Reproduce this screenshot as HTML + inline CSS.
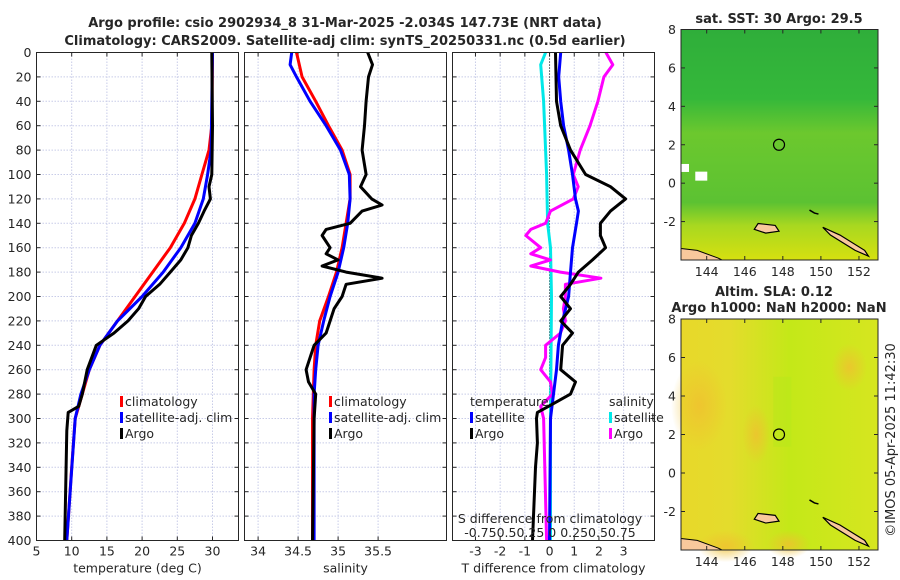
<!DOCTYPE html>
<html><head><meta charset="utf-8"><style>
html,body{margin:0;padding:0;background:#fff;}
svg{display:block;font-family:"DejaVu Sans","Liberation Sans",sans-serif;}
</style></head><body>
<svg id="fig" width="900" height="580" viewBox="0 0 900 580">
<defs>
<linearGradient id="sstg" x1="0" y1="0" x2="0" y2="1">
<stop offset="0" stop-color="#2fae3a"/><stop offset="0.3" stop-color="#35b83a"/><stop offset="0.45" stop-color="#6cc82e"/><stop offset="0.75" stop-color="#5cc232"/><stop offset="0.85" stop-color="#a8d820"/><stop offset="1" stop-color="#d6e010"/>
</linearGradient>
<linearGradient id="slag" x1="0" y1="0" x2="1" y2="0">
<stop offset="0" stop-color="#e8d82a"/><stop offset="0.25" stop-color="#e4dc2c"/><stop offset="0.55" stop-color="#c4e818"/><stop offset="1" stop-color="#d6e620"/>
</linearGradient>
<radialGradient id="orb" cx="0.5" cy="0.5" r="0.5"><stop offset="0" stop-color="#f0c030" stop-opacity="0.8"/><stop offset="1" stop-color="#f0c030" stop-opacity="0"/></radialGradient>
</defs>
</svg>
<script>
// ---- data ----
const depthTicks=[0,20,40,60,80,100,120,140,160,180,200,220,240,260,280,300,320,340,360,380,400];
const tempTicks=[5,10,15,20,25,30];
const salTicks=[34,34.5,35,35.5];
const salTickLabels=["34","34.5","35","35.5"];
const dTicks=[-3,-2,-1,0,1,2,3];
const lonTicks=[144,146,148,150,152];
const latTicks=[-2,0,2,4,6,8];

const tClimD=[0,60,80,100,120,140,160,180,200,220,240,260,280,300,340,400];
const tClimV=[30,29.9,29.5,28.5,27.5,26,24,21.5,19,16.5,14,12.5,11.5,10.5,10,9.3];
const tSatD=[0,80,100,120,140,160,180,200,220,240,260,280,300,400];
const tSatV=[30,29.8,29.3,28.7,27.5,25.5,23,20,16.5,14,12.5,11.3,10.5,9.3];
const tArgoD=[0,60,100,110,120,130,140,150,160,170,180,190,200,210,220,230,240,260,280,290,295,310,400];
const tArgoV=[29.9,30,29.9,29.5,29.7,28.8,28,27,26.5,25.5,24,22.5,20.5,19.5,18,16,13.5,12.2,11.5,11,9.5,9.3,9.0];

const sClimD=[0,20,40,60,80,100,120,140,160,180,200,220,240,260,280,300,400];
const sClimV=[34.48,34.55,34.72,34.88,35.05,35.15,35.15,35.1,35.05,34.98,34.88,34.77,34.72,34.7,34.69,34.68,34.68];
const sSatD=[0,10,20,40,60,80,100,120,140,160,180,200,220,240,260,280,300,400];
const sSatV=[34.42,34.4,34.48,34.65,34.85,35.03,35.14,35.15,35.12,35.07,35.0,34.9,34.82,34.75,34.72,34.7,34.7,34.7];
const sArgoD=[0,10,20,40,60,80,100,110,120,125,130,140,145,150,160,165,170,175,180,185,190,200,210,220,230,240,250,260,270,280,300,400];
const sArgoV=[35.37,35.43,35.38,35.35,35.33,35.3,35.35,35.28,35.42,35.55,35.3,35.15,34.85,34.8,34.9,34.85,35.0,34.8,35.1,35.55,35.1,35.05,34.95,34.9,34.85,34.7,34.65,34.6,34.63,34.72,34.7,34.68];

const dSatTD=[0,20,40,60,80,100,120,130,140,160,180,200,220,240,260,280,300,400];
const dSatTV=[0.45,0.37,0.45,0.57,0.77,0.93,1.05,1.17,1.09,0.93,0.85,0.77,0.53,0.36,0.28,0.16,0.04,0];
const dArgoTD=[0,40,60,80,100,110,120,130,140,150,160,170,180,190,200,210,220,230,240,260,270,280,290,295,300,320,340,360,380,400];
const dArgoTV=[0.24,0.28,0.45,0.85,1.46,2.47,3.08,2.47,2.06,2.06,2.27,1.74,1.17,0.85,0.45,0.85,0.45,0.93,0.53,0.45,1.05,0.85,-0.04,-0.49,-0.53,-0.49,-0.57,-0.61,-0.65,-0.69];
const dSatSD=[0,10,40,100,140,160,200,300,400];
const dSatSV=[-0.04,-0.09,-0.06,-0.03,-0.02,0.01,0.02,0.01,0.01];
const dArgoSD=[0,10,20,40,60,80,100,110,120,130,140,145,150,160,165,170,175,180,185,190,200,210,220,230,240,250,260,270,280,290,300,400];
const dArgoSV=[0.57,0.64,0.55,0.49,0.41,0.31,0.24,0.29,0.24,0.01,-0.04,-0.19,-0.24,-0.09,-0.19,0.01,-0.19,0.11,0.52,0.16,0.16,0.14,0.16,0.11,-0.04,-0.04,-0.09,0.01,0.03,-0.09,-0.06,-0.03];

const argoLon=[147.8], argoLat=[2];

// ---- helpers ----
const NS="http://www.w3.org/2000/svg";
const svg=document.getElementById('fig');
function el(tag,attrs,parent){const e=document.createElementNS(NS,tag);for(const k in attrs)e.setAttribute(k,attrs[k]);(parent||svg).appendChild(e);return e;}
function txt(x,y,s,size,anchor,weight,parent){const t=el('text',{x:x,y:y,'font-size':size,'text-anchor':anchor||'middle','font-weight':weight||'normal',fill:'#262626'},parent);t.textContent=s;return t;}

const plotTop=52.5,plotBot=540.5;
const yD=d=>plotTop+d/400*(plotBot-plotTop);
const panels=[
 {x0:36.5,x1:238.5,min:5,max:5+202/7.04},
 {x0:244.5,x1:446.5,min:33.83,max:36.355},
 {x0:452.5,x1:654.5,min:-3.93,max:4.25}
];
const xf=(p,v)=>p.x0+(v-p.min)/(p.max-p.min)*(p.x1-p.x0);
const sScale=4; // S difference plotted at 4x on T axis

function drawPanel(i,xticks,xlabels,xtitle,name){
 const p=panels[i];
 const g=el('g',{});
 
 
 el('rect',{x:p.x0,y:plotTop,width:p.x1-p.x0,height:plotBot-plotTop,fill:'#fff'},g);
 depthTicks.forEach(d=>{el('line',{x1:p.x0,x2:p.x1,y1:yD(d),y2:yD(d),stroke:'#c8cce8','stroke-width':1,'stroke-dasharray':'1.5,1.5'},g);
  el('line',{x1:p.x0,x2:p.x0+4,y1:yD(d),y2:yD(d),stroke:'#262626'},g);el('line',{x1:p.x1,x2:p.x1-4,y1:yD(d),y2:yD(d),stroke:'#262626'},g);
  if(i===0){const t=txt(p.x0-5,yD(d)+4.5,String(d),12.5,'end',null,g);}
 });
 xticks.forEach((v,k)=>{const x=xf(p,v);el('line',{x1:x,x2:x,y1:plotTop,y2:plotBot,stroke:'#c8cce8','stroke-dasharray':'1.5,1.5'},g);
  el('line',{x1:x,x2:x,y1:plotBot,y2:plotBot-4,stroke:'#262626'},g);el('line',{x1:x,x2:x,y1:plotTop,y2:plotTop+4,stroke:'#262626'},g);
  const t=txt(x,plotBot+15,xlabels[k],12.5,'middle',null,g);});
 const tt=txt((p.x0+p.x1)/2,plotBot+32,xtitle,12.5,'middle',null,g);
 return g;
}
function line(i,D,V,color,name,mult){
 const p=panels[i];const m=mult||1;
 const pts=D.map((d,k)=>xf(p,V[k]*m).toFixed(1)+','+yD(d).toFixed(1)).join(' ');
 const pl=el('polyline',{points:pts,fill:'none',stroke:color,'stroke-width':3,'stroke-linejoin':'round'});
 
 
}
function frame(i){const p=panels[i];el('rect',{x:p.x0,y:plotTop,width:p.x1-p.x0,height:plotBot-plotTop,fill:'none',stroke:'#262626','stroke-width':1});}

drawPanel(0,tempTicks,tempTicks.map(String),'temperature (deg C)','temperature-panel');
drawPanel(1,salTicks,salTickLabels,'salinity','salinity-panel');
drawPanel(2,dTicks,dTicks.map(String),'T difference from climatology','difference-panel');

el('line',{x1:xf(panels[2],0),x2:xf(panels[2],0),y1:plotTop,y2:plotBot,stroke:'#000','stroke-dasharray':'1,2'});

line(0,tClimD,tClimV,'#ff0000','temp-climatology-line');
line(0,tSatD,tSatV,'#0000ff','temp-satellite-line');
line(0,tArgoD,tArgoV,'#000000','temp-argo-line');
line(1,sClimD,sClimV,'#ff0000','sal-climatology-line');
line(1,sSatD,sSatV,'#0000ff','sal-satellite-line');
line(1,sArgoD,sArgoV,'#000000','sal-argo-line');
line(2,dSatSD,dSatSV,'#00e8e8','sdiff-satellite-line',sScale);
line(2,dArgoSD,dArgoSV,'#ff00ff','sdiff-argo-line',sScale);
line(2,dSatTD,dSatTV,'#0000ff','tdiff-satellite-line');
line(2,dArgoTD,dArgoTV,'#000000','tdiff-argo-line');
[0,1,2].forEach(frame);

const sl=txt(550,523,'S difference from climatology',12.5,'middle');

const sv=txt(550,537,'-0.750.50.25 0  0.250.50.75',12.5,'middle');


function legend(x,y,items,name){
 const g=el('g',{});
 
 
 items.forEach((it,k)=>{
  if(it[1]) el('rect',{x:x,y:y+k*16-10,width:3,height:11,fill:it[1]},g);
  txt(x+(it[1]?5:0),y+k*16,it[0],12.5,'start',null,g);
 });
}
legend(120,406,[['climatology','#ff0000'],['satellite-adj. clim','#0000ff'],['Argo','#000000']],'temperature-legend');
legend(329,406,[['climatology','#ff0000'],['satellite-adj. clim','#0000ff'],['Argo','#000000']],'salinity-legend');
legend(470,406,[['temperature',null],['satellite','#0000ff'],['Argo','#000000']],'tdiff-legend');
legend(609,406,[['salinity',null],['satellite','#00e8e8'],['Argo','#ff00ff']],'sdiff-legend');

const t1=txt(345,27,'Argo profile: csio 2902934_8 31-Mar-2025 -2.034S 147.73E (NRT data)',13,'middle','bold');

const t2=txt(345,45,'Climatology: CARS2009. Satellite-adj clim: synTS_20250331.nc (0.5d earlier)',13,'middle','bold');


const maps=[{x0:681,x1:878,y0:29.5,y1:260,fill:'url(#sstg)',name:'sst-map'},{x0:681,x1:878,y0:319,y1:550,fill:'url(#slag)',name:'sla-map'}];
const lonMin=142.65,lonMax=153.0;
maps.forEach((m,mi)=>{
 const pxLat=(m.y1-m.y0)/12;
 const mx=lon=>m.x0+(lon-lonMin)/(lonMax-lonMin)*(m.x1-m.x0);
 const my=lat=>m.y0+(8-lat)*pxLat;
 const g=el('g',{});
 
 
 el('rect',{x:m.x0,y:m.y0,width:m.x1-m.x0,height:m.y1-m.y0,fill:m.fill},g);
 if(mi===0){
  el('rect',{x:mx(142.65),y:my(1),width:8,height:8,fill:'#fff'},g);
  el('rect',{x:mx(143.4),y:my(0.6),width:12,height:9,fill:'#fff'},g);
 } else {
  [[143.6,3.5,28,45],[146.6,2,14,30],[145,-3.8,28,16],[148.3,-3.7,22,14],[151.5,5.5,18,24]].forEach(b=>el('ellipse',{cx:mx(b[0]),cy:my(b[1]),rx:b[2],ry:b[3],fill:'url(#orb)'},g));
  el('rect',{x:mx(147.5),y:my(5),width:18,height:70,fill:'#b8e81a',opacity:0.5},g);
 }
 el('polygon',{points:`${m.x0},${my(-3.4)} ${mx(143.5)},${my(-3.5)} ${mx(144.6)},${my(-3.9)} ${mx(144.8)},${my(-4)} ${m.x0},${m.y1}`,fill:'#f8c89c',stroke:'#000','stroke-width':1},g);
 el('polygon',{points:`${mx(146.7)},${my(-2.1)} ${mx(147.6)},${my(-2.2)} ${mx(147.8)},${my(-2.5)} ${mx(147.1)},${my(-2.6)} ${mx(146.5)},${my(-2.4)}`,fill:'#f8c89c',stroke:'#000','stroke-width':1.2},g);
 el('polygon',{points:`${mx(150.1)},${my(-2.3)} ${mx(151)},${my(-2.7)} ${mx(152.3)},${my(-3.5)} ${mx(152.5)},${my(-3.8)} ${mx(151.8)},${my(-3.5)} ${mx(150.5)},${my(-2.7)}`,fill:'#f8c89c',stroke:'#000','stroke-width':1.2},g);
 el('path',{d:`M${mx(149.4)},${my(-1.4)} l5,3 l4,1`,stroke:'#000','stroke-width':1.5,fill:'none'},g);
 argoLon.forEach((lo,k)=>{const c=el('circle',{cx:mx(lo),cy:my(argoLat[k]),r:5.5,fill:'none',stroke:'#000','stroke-width':1.2});});
 el('rect',{x:m.x0,y:m.y0,width:m.x1-m.x0,height:m.y1-m.y0,fill:'none',stroke:'#262626'});
 latTicks.forEach(l=>{const y=my(l);el('line',{x1:m.x0,x2:m.x0+4,y1:y,y2:y,stroke:'#262626'});el('line',{x1:m.x1,x2:m.x1-4,y1:y,y2:y,stroke:'#262626'});
  const t=txt(m.x0-5,y+4.5,String(l),12.5,'end');});
 lonTicks.forEach(l=>{const x=mx(l);el('line',{x1:x,x2:x,y1:m.y1,y2:m.y1-4,stroke:'#262626'});el('line',{x1:x,x2:x,y1:m.y0,y2:m.y0+4,stroke:'#262626'});
  const t=txt(x,m.y1+16,String(l),12.5,'middle');});
});
const mt1=txt(779,23,'sat. SST: 30 Argo: 29.5',13,'middle','bold');
const mt2=txt(715,296,'Altim. SLA: 0.12',13,'start','bold');
const mt3=txt(779,312,'Argo h1000: NaN h2000: NaN',13,'middle','bold');
const cr=txt(0,0,'©IMOS 05-Apr-2025 11:42:30',13,'middle');
cr.setAttribute('transform','translate(895,440) rotate(-90)');

</script>
</body></html>
